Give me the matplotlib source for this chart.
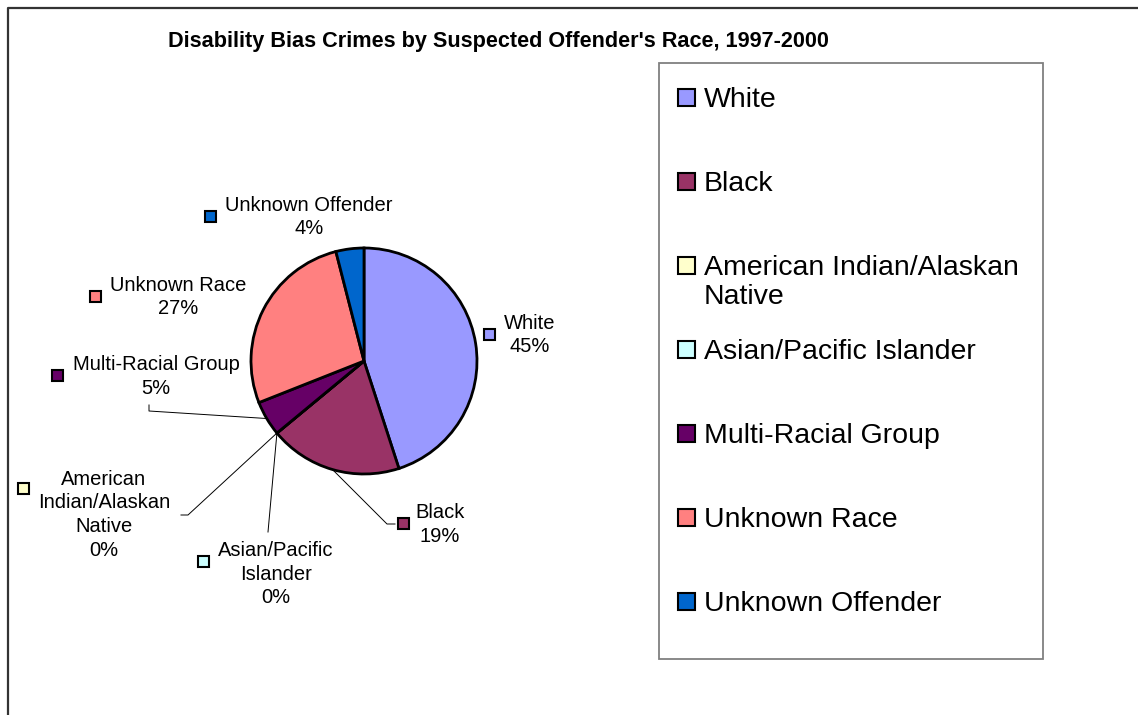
import matplotlib.pyplot as plt
import numpy as np
from matplotlib.patches import Rectangle
from matplotlib.lines import Line2D

W, H = 1138, 715

categories = [
    "White",
    "Black",
    "American Indian/Alaskan Native",
    "Asian/Pacific Islander",
    "Multi-Racial Group",
    "Unknown Race",
    "Unknown Offender",
]
percent = [45, 19, 0, 0, 5, 27, 4]
colors = ["#9999FF", "#993366", "#FFFFCC", "#CCFFFF", "#660066", "#FF8080", "#0066CC"]

pie_text = [
    "White",
    "Black",
    "American\nIndian/Alaskan\nNative",
    "Asian/Pacific\nIslander",
    "Multi-Racial Group",
    "Unknown Race",
    "Unknown Offender",
]
legend_text = [
    "White",
    "Black",
    "American Indian/Alaskan\nNative",
    "Asian/Pacific Islander",
    "Multi-Racial Group",
    "Unknown Race",
    "Unknown Offender",
]

# layout, pixel coords measured from the top-left corner
label_xy = [(530, 323), (440, 512), (104, 479), (276, 550), (156, 364), (178, 285), (309, 205)]
marker_xy = [(490, 334), (404, 523), (24, 488), (204, 561), (58, 375), (96, 296), (211, 216)]
# leader line end (near the label), with an elbow point; None = no leader
leader_pts = [
    None,
    [(395, 524), (387, 524)],
    [(181, 515), (188, 515)],
    [(268, 532)],
    [(149, 405), (149, 411)],
    None,
    None,
]

cx, cy, rad = 364, 361, 113


def fy(y):
    return H - y


plt.rcParams["font.family"] = ["Liberation Sans", "DejaVu Sans"]

fig = plt.figure(figsize=(W / 100, H / 100), dpi=100)
ax = fig.add_axes([0, 0, 1, 1])

# outer chart frame (runs off the right and bottom edges)
ax.add_line(Line2D([8, 8, W + 5], [-5, fy(8), fy(8)], color="#333333", lw=1.6))

wedges, _ = ax.pie(
    percent,
    colors=colors,
    startangle=90,
    counterclock=False,
    center=(cx, fy(cy)),
    radius=rad,
    wedgeprops=dict(edgecolor="black", linewidth=2.0),
    frame=True,
)
ax.set_xlim(0, W)
ax.set_ylim(0, H)
ax.set_aspect("equal")
ax.axis("off")

fs_lab = 14.5
for i, w in enumerate(wedges):
    ang = np.deg2rad((w.theta1 + w.theta2) / 2)
    rx = cx + rad * np.cos(ang)
    ry = fy(cy) + rad * np.sin(ang)
    if leader_pts[i] is not None:
        xs = [p[0] for p in leader_pts[i]] + [rx]
        ys = [fy(p[1]) for p in leader_pts[i]] + [ry]
        ax.plot(xs, ys, color="black", lw=0.7, zorder=1)
    txt = f"{pie_text[i]}\n{percent[i]}%"
    lx, ly = label_xy[i]
    ax.text(lx, fy(ly) + 9, txt, ha="center", va="top", fontsize=fs_lab,
            multialignment="center", linespacing=1.3, color="black")
    mx, my = marker_xy[i]
    ax.add_patch(Rectangle((mx - 5.5, fy(my) - 5.5), 11, 11, facecolor=colors[i],
                           edgecolor="black", lw=1.5))

# title
ax.text(498, fy(42), "Disability Bias Crimes by Suspected Offender's Race, 1997-2000",
        ha="center", va="center", fontsize=15.6, fontweight="bold")

# legend box
ax.add_patch(Rectangle((659, fy(659)), 1043 - 659, 659 - 63, facecolor="white",
                       edgecolor="#808080", lw=1.3))
for i, lab in enumerate(legend_text):
    ycen = 97 + 84 * i
    ax.add_patch(Rectangle((678, fy(ycen) - 8.5), 17, 17, facecolor=colors[i],
                           edgecolor="black", lw=1.5))
    ax.text(704, fy(ycen) + 10, lab, ha="left", va="top", fontsize=20.5,
            linespacing=1.15, color="black")

fig.savefig("out.png", dpi=100)
